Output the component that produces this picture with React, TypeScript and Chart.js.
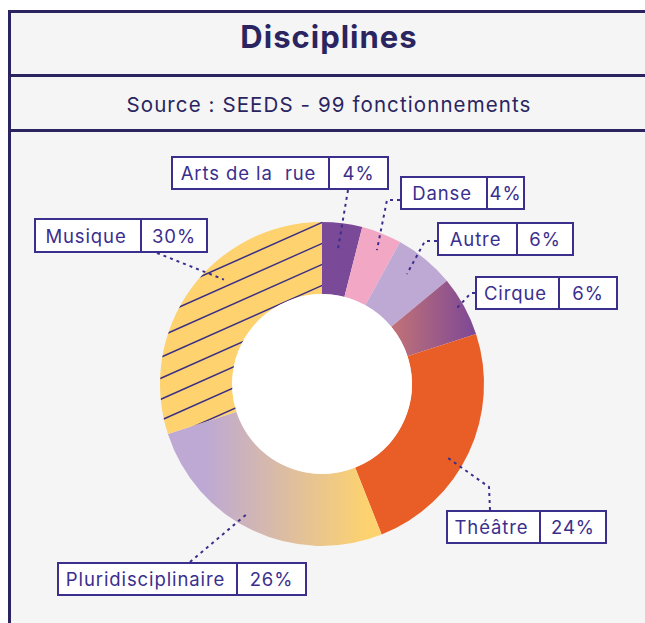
import React, { useEffect, useRef } from 'react';
import { Chart, registerables } from 'chart.js';

Chart.register(...registerables);

// ---------- data ----------
const title = 'Disciplines';
const subtitle = 'Source : SEEDS - 99 fonctionnements';
const categories = ['Arts de la  rue', 'Danse', 'Autre', 'Cirque', 'Théâtre', 'Pluridisciplinaire', 'Musique'];
const values = [4, 4, 6, 6, 24, 26, 30];

// ---------- style ----------
const NAVY = '#2a2560';
const INK = '#3b2f8e';
const BG = '#f5f5f5';
const FONT = 'Inter, "Noto Sans", sans-serif';
const sliceColors = ['#7a4997', '#f2a8c4', '#bda9d3', '#a05a88', '#e95e27', '#d7b6b0', '#fdd26f'];

// canvas placement on the page
const CV = { left: 11, top: 132, width: 634, height: 491 };

// label box layout (page coordinates) + leader line geometry
type Box = { x: number; y: number; w: number; h: number; split: number; from: number[]; elbow: number[] | null; t: number; f: number };
const boxes: Box[] = [
  { x: 171, y: 156, w: 218, h: 34, split: 157, from: [348, 190], elbow: null, t: 0.47, f: 0.65 },
  { x: 400, y: 176, w: 125, h: 34, split: 86, from: [400, 200], elbow: [387, 200], t: 0.55, f: 0.76 },
  { x: 437, y: 222, w: 137, h: 34, split: 79, from: [437, 241], elbow: [425, 241], t: 0.41, f: 0.68 },
  { x: 475, y: 276, w: 143, h: 34, split: 83, from: [475, 293], elbow: [471, 293], t: 0.49, f: 0.86 },
  { x: 446, y: 510, w: 161, h: 34, split: 93, from: [490, 510], elbow: [489, 487], t: 0.56, f: 0.76 },
  { x: 57, y: 562, w: 250, h: 34, split: 179, from: [190, 562], elbow: null, t: 0.55, f: 0.82 },
  { x: 34, y: 218, w: 174, h: 35, split: 106, from: [157, 253], elbow: null, t: 0.6, f: 0.74 },
];

function sliceFill(c: any) {
  const i = c.dataIndex;
  const chart = c.chart;
  const area = chart.chartArea;
  if (!area || (i !== 3 && i !== 5)) return sliceColors[i];
  const cx = (area.left + area.right) / 2;
  const r = Math.min(area.right - area.left, area.bottom - area.top) / 2;
  const ctx = chart.ctx as CanvasRenderingContext2D;
  if (i === 3) {
    const g = ctx.createLinearGradient(cx + 0.43 * r, 0, cx + 0.96 * r, 0);
    g.addColorStop(0, '#c27277');
    g.addColorStop(1, '#7b4796');
    return g;
  }
  const g = ctx.createLinearGradient(cx - 0.72 * r, 0, cx + 0.28 * r, 0);
  g.addColorStop(0, '#bda9d3');
  g.addColorStop(1, '#fdd26f');
  return g;
}

const decorPlugin = {
  id: 'decor',
  afterDatasetsDraw(chart: any) {
    const ctx = chart.ctx as CanvasRenderingContext2D;
    const meta = chart.getDatasetMeta(0);
    const arcs = meta.data;
    if (!arcs.length) return;
    const a0 = arcs[0].getProps(['x', 'y', 'innerRadius', 'outerRadius'], true);
    // white hole
    ctx.save();
    ctx.beginPath();
    ctx.arc(a0.x, a0.y, a0.innerRadius, 0, Math.PI * 2);
    ctx.fillStyle = '#ffffff';
    ctx.fill();
    ctx.restore();

    // hatch on Musique
    const m = arcs[6].getProps(['x', 'y', 'startAngle', 'endAngle', 'innerRadius', 'outerRadius'], true);
    ctx.save();
    ctx.beginPath();
    ctx.arc(m.x, m.y, m.outerRadius, m.startAngle, m.endAngle);
    ctx.arc(m.x, m.y, m.innerRadius, m.endAngle, m.startAngle, true);
    ctx.closePath();
    ctx.clip();
    ctx.strokeStyle = '#3a2f85';
    ctx.lineWidth = 1.5;
    const slope = Math.tan((24 * Math.PI) / 180);
    const step = 21;
    const R = m.outerRadius;
    for (let k = -30; k <= 40; k++) {
      const yk = m.y - R + 0.5 + k * step;
      const x1 = m.x - R - 10;
      const x2 = m.x + R + 10;
      ctx.beginPath();
      ctx.moveTo(x1, yk - slope * (x1 - m.x));
      ctx.lineTo(x2, yk - slope * (x2 - m.x));
      ctx.stroke();
    }
    ctx.restore();

    // leader lines
    ctx.save();
    ctx.strokeStyle = INK;
    ctx.lineWidth = 2;
    ctx.setLineDash([3, 4]);
    boxes.forEach((b, i) => {
      const p = arcs[i].getProps(['x', 'y', 'startAngle', 'endAngle', 'innerRadius', 'outerRadius'], true);
      const ang = p.startAngle + b.t * (p.endAngle - p.startAngle);
      const rad = p.innerRadius + b.f * (p.outerRadius - p.innerRadius);
      const px = p.x + rad * Math.cos(ang);
      const py = p.y + rad * Math.sin(ang);
      ctx.beginPath();
      ctx.moveTo(b.from[0] - CV.left, b.from[1] - CV.top);
      if (b.elbow) ctx.lineTo(b.elbow[0] - CV.left, b.elbow[1] - CV.top);
      ctx.lineTo(px, py);
      ctx.stroke();
    });
    ctx.restore();
  },
};

export default function App() {
  const ref = useRef<HTMLCanvasElement>(null);
  useEffect(() => {
    if (!ref.current) return;
    const chart = new Chart(ref.current, {
      type: 'doughnut',
      data: {
        labels: categories,
        datasets: [
          {
            data: values,
            backgroundColor: sliceFill as any,
            borderWidth: 0,
          },
        ],
      },
      options: {
        responsive: false,
        animation: false,
        cutout: '55.5%',
        layout: { padding: { left: 149, right: 161, top: 90, bottom: 77 } },
        plugins: { legend: { display: false }, tooltip: { enabled: false } },
        events: [],
      },
      plugins: [decorPlugin],
    });
    return () => chart.destroy();
  }, []);

  const line = (top: number) => (
    <div style={{ position: 'absolute', left: 8, top, width: 700, height: 3, background: NAVY }} />
  );

  return (
    <div style={{ position: 'absolute', left: 0, top: 0, width: 645, height: 623, overflow: 'hidden', background: '#ffffff' }}>
      <div style={{ position: 'absolute', left: 8, top: 10, width: 700, height: 700, background: BG, borderLeft: `3px solid ${NAVY}`, boxSizing: 'border-box' }} />
      {line(10)}
      {line(74)}
      {line(129)}
      <div style={{ position: 'absolute', left: 11, width: 636, top: 17, height: 40, lineHeight: '40px', textAlign: 'center', fontFamily: FONT, fontWeight: 700, fontSize: 31, letterSpacing: 1, color: NAVY }}>
        {title}
      </div>
      <div style={{ position: 'absolute', left: 11, width: 636, top: 90, height: 30, lineHeight: '30px', textAlign: 'center', fontFamily: FONT, fontSize: 20.5, letterSpacing: 1.1, color: NAVY }}>
        {subtitle}
      </div>
      <canvas
        ref={ref}
        width={CV.width}
        height={CV.height}
        style={{ position: 'absolute', left: CV.left, top: CV.top, width: CV.width, height: CV.height }}
      />
      {boxes.map((b, i) => (
        <div
          key={i}
          style={{
            position: 'absolute', left: b.x, top: b.y, width: b.w, height: b.h, boxSizing: 'border-box',
            border: `2px solid ${INK}`, background: '#ffffff', display: 'flex', color: INK,
            fontFamily: FONT, fontSize: 18.5, letterSpacing: 0.9,
          }}
        >
          <div style={{ width: b.split, boxSizing: 'border-box', borderRight: `2px solid ${INK}`, display: 'flex', alignItems: 'center', justifyContent: 'center', paddingRight: 4, whiteSpace: 'pre' }}>
            {categories[i]}
          </div>
          <div style={{ flex: 1, display: 'flex', alignItems: 'center', justifyContent: 'center' }}>
            {values[i] + '%'}
          </div>
        </div>
      ))}
    </div>
  );
}
